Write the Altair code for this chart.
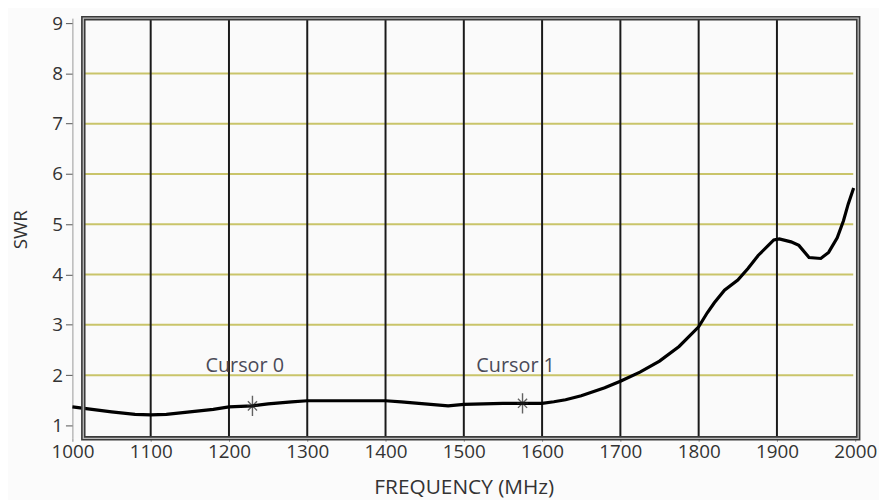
import altair as alt
import pandas as pd

# ---- data ----
freq = [1000, 1020, 1050, 1080, 1100, 1120, 1150, 1180, 1200, 1230, 1250, 1280, 1300,
        1350, 1400, 1420, 1450, 1480, 1500, 1550, 1575, 1600, 1615, 1630, 1650, 1680,
        1700, 1725, 1750, 1775, 1800, 1811, 1820, 1833, 1850, 1863, 1876, 1889, 1896,
        1903, 1918, 1928, 1941, 1956, 1966, 1977, 1985, 1991, 1998]
swr = [1.37, 1.33, 1.27, 1.22, 1.21, 1.22, 1.27, 1.32, 1.37, 1.39, 1.43, 1.47, 1.49,
       1.49, 1.49, 1.47, 1.43, 1.39, 1.42, 1.44, 1.44, 1.44, 1.47, 1.51, 1.59, 1.75,
       1.88, 2.06, 2.28, 2.57, 2.96, 3.24, 3.44, 3.69, 3.89, 4.12, 4.38, 4.58, 4.69,
       4.71, 4.65, 4.58, 4.34, 4.32, 4.44, 4.73, 5.07, 5.40, 5.72]

cursor_names = ["Cursor 0", "Cursor 1"]
cursor_freq = [1230, 1575]
cursor_swr = [1.39, 1.44]
label_freq = [1170, 1516]
label_swr = [2.18, 2.18]

x_ticks = [1000, 1100, 1200, 1300, 1400, 1500, 1600, 1700, 1800, 1900, 2000]
y_ticks = [1, 2, 3, 4, 5, 6, 7, 8, 9]
v_grid = [1100, 1200, 1300, 1400, 1500, 1600, 1700, 1800, 1900]
h_grid = [2, 3, 4, 5, 6, 7, 8]

W, H = 790, 424
FONT = "Open Sans"

curve = pd.DataFrame({"f": freq, "s": swr})
cursors = pd.DataFrame({"name": cursor_names, "f": cursor_freq, "s": cursor_swr,
                        "lf": label_freq, "ls": label_swr})
vg = pd.DataFrame({"f": v_grid})
hg = pd.DataFrame({"s": h_grid})

xscale = alt.Scale(domain=[1000, 2000], nice=False, zero=False)
yscale = alt.Scale(domain=[0.744, 9.098], nice=False, zero=False)

x_axis = alt.Axis(values=x_ticks, title="FREQUENCY (MHz)", grid=False, domain=False,
                  tickSize=3, tickColor="#888", labelFontSize=19, labelColor="#333",
                  labelFont=FONT, titleFont=FONT, titleFontSize=21, titleColor="#333",
                  titleFontWeight="normal", labelPadding=1, format="d",
                  labelFlush=False, labelOverlap=False,
                  titleBaseline="middle", titleY=50)
y_axis = alt.Axis(values=y_ticks, title="SWR", grid=False, domain=True, domainColor="#999",
                  tickSize=7, tickColor="#555", labelFontSize=19, labelColor="#333",
                  labelFont=FONT, titleFont=FONT, titleFontSize=19, titleColor="#333",
                  titleFontWeight="normal", labelPadding=3, format="d",
                  labelFlush=False, labelOverlap=False,
                  titleAlign="center", titleBaseline="middle", titleX=-52, titleY=213,
                  titleAngle=270)

hgrid = alt.Chart(hg).mark_rule(color="#c9c46a", strokeWidth=2).encode(
    y=alt.Y("s:Q", scale=yscale, axis=y_axis),
    x=alt.value(9), x2=alt.value(W - 2),
)

vgrid = alt.Chart(vg).mark_rule(color="#1a1a1a", strokeWidth=2).encode(
    x=alt.X("f:Q", scale=xscale, axis=x_axis),
)

line = alt.Chart(curve).mark_line(color="#000", strokeWidth=3.2).encode(
    x=alt.X("f:Q", scale=xscale),
    y=alt.Y("s:Q", scale=yscale),
)

star_path = "M0,-1L0,1M-0.45,-0.45L0.45,0.45M-0.45,0.45L0.45,-0.45M-0.55,0L0.55,0"
markers = alt.Chart(cursors).mark_point(shape=star_path, size=420, filled=False,
                                        stroke="#222", strokeWidth=1.4).encode(
    x=alt.X("f:Q", scale=xscale),
    y=alt.Y("s:Q", scale=yscale),
)

labels = alt.Chart(cursors).mark_text(align="left", baseline="middle", font=FONT,
                                      fontSize=20, color="#4a4a58").encode(
    x=alt.X("lf:Q", scale=xscale),
    y=alt.Y("ls:Q", scale=yscale),
    text="name:N",
)

frame_outer = alt.Chart(alt.Data(values=[{"a": 1}])).mark_rect(
    fill=None, stroke="#3a3a3a", strokeWidth=4.5).encode(
    x=alt.value(11), x2=alt.value(W + 3), y=alt.value(0), y2=alt.value(H),
)
frame_mid = alt.Chart(alt.Data(values=[{"a": 1}])).mark_rect(
    fill=None, stroke="#b8b8b8", strokeWidth=1.3).encode(
    x=alt.value(11), x2=alt.value(W + 3), y=alt.value(0), y2=alt.value(H),
)

chart = alt.layer(hgrid, vgrid, line, markers, labels, frame_outer, frame_mid).properties(
    width=W, height=H,
    autosize=alt.AutoSizeParams(type="none"),
    padding={"left": 65, "top": 8, "right": 24, "bottom": 60},
    background="#fbfbfb",
).configure_view(stroke=None, fill="#fafafa")

chart.save("out.html", embed_options={"renderer": "svg", "actions": False})
